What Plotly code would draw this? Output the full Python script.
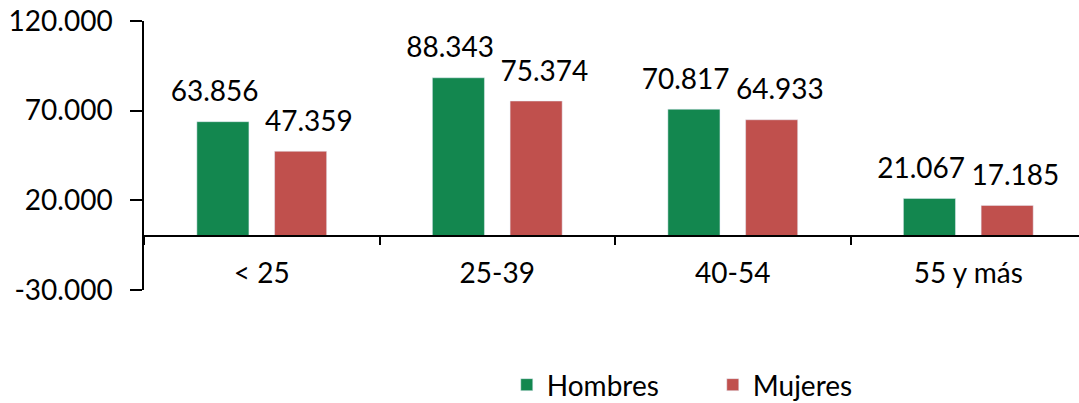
import plotly.graph_objects as go

categories = ["< 25", "25-39", "40-54", "55 y más"]
hombres = [63856, 88343, 70817, 21067]
mujeres = [47359, 75374, 64933, 17185]
y_ticks = [-30000, 20000, 70000, 120000]
y_tick_labels = ["-30.000", "20.000", "70.000", "120.000"]

FONT = "Lato"
GREEN = "#13874F"
RED = "#C0504D"

fig = go.Figure()
for name, vals, col in [("Hombres", hombres, GREEN), ("Mujeres", mujeres, RED)]:
    fig.add_trace(go.Bar(name=name, x=categories, y=vals, marker_color=col,
                         offsetgroup=name, hoverinfo="skip"))
for name, vals in [("Hombres", hombres), ("Mujeres", mujeres)]:
    fig.add_trace(go.Scatter(x=categories, y=vals, mode="markers+text",
                             texttemplate="%{y:,}", textposition="top center",
                             marker=dict(size=20, opacity=0, color="white"),
                             offsetgroup=name, showlegend=False, cliponaxis=False,
                             textfont=dict(size=28, color="black"), hoverinfo="skip"))

fig.update_layout(
    width=1079, height=403,
    margin=dict(l=144, r=0, t=21, b=113, autoexpand=False),
    paper_bgcolor="white", plot_bgcolor="white",
    separators=",.",
    font=dict(family=FONT, size=28, color="black"),
    barmode="group", bargap=0.34, bargroupgap=0.33,
    scattermode="group", scattergap=0.2,
    showlegend=True,
    legend=dict(orientation="h", x=0.388, xanchor="left", y=-0.353, yanchor="middle",
                font=dict(size=28), entrywidth=161, entrywidthmode="pixels",
                traceorder="normal"),
    xaxis=dict(type="category", range=[-0.5, 3.47], anchor="free", position=0.2,
               showline=True, linecolor="black", linewidth=1.5, automargin=False,
               ticks="outside", tickson="boundaries", ticklen=8, tickcolor="black", tickwidth=1.5,
               ticklabelstandoff=12, showgrid=False, tickfont=dict(size=28)),
    yaxis=dict(range=[-30000, 120000], tickvals=y_ticks, ticktext=y_tick_labels,
               showline=True, linecolor="black", linewidth=1.5, automargin=False,
               ticks="outside", ticklen=12, tickcolor="black", tickwidth=1.5,
               ticklabelstandoff=12,
               showgrid=False, zeroline=False, tickfont=dict(size=28)),
)
fig.write_html("out.html", config={"displayModeBar": False},
               post_script="document.body.style.margin='0';")
